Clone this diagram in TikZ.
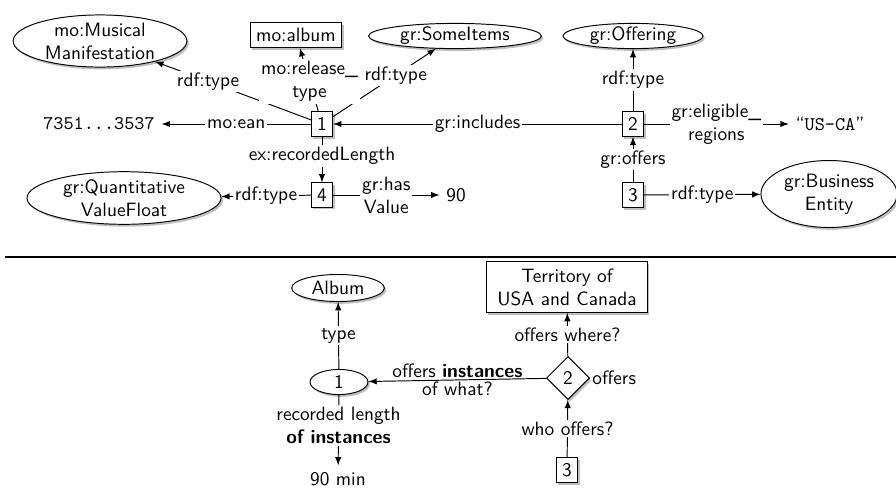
\documentclass[tikz,border=0pt]{standalone}
\usepackage{amsmath}
\usepackage{tikz}
\usetikzlibrary{shapes.geometric,shadows}

\begin{document}
\begin{tikzpicture}[x=0.01821cm,y=-0.01821cm,font=\sffamily,line width=0.5pt,>=latex,
  shad/.style={drop shadow={shadow xshift=1pt,shadow yshift=-1.2pt}},
  box/.style={draw,fill=white,shad,inner sep=3pt,align=center},
  ell/.style 2 args={draw,ellipse,fill=white,shad,inner sep=0pt,align=center,minimum width=#1,minimum height=#2},
  dia/.style={draw,diamond,fill=white,shad,inner sep=1pt,minimum size=22.3pt},
  lab/.style={fill=white,inner sep=1pt,align=center}]
\useasboundingbox (0,0) rectangle (896,489);
% top graph
\node[ell={90pt}{27pt}] (mm) at (100,41) {mo:Musical\\Manifestation};
\node[box] (album) at (296,35) {mo:album};
\node[ell={89.6pt}{12.4pt}] (items) at (455,36) {gr:SomeItems};
\node[ell={72.5pt}{12.4pt}] (offering) at (633,36) {gr:Offering};
\node[box] (t1) at (322,124) {1};
\node[box] (t2) at (633,124) {2};
\node[box] (t3) at (633,195) {3};
\node[box] (t4) at (322,195) {4};
\node (ean) at (99,124) {\texttt{7351...3537}};
\node[ell={100.5pt}{27pt}] (qvf) at (124,198) {gr:Quantitative\\ValueFloat};
\node (ninety) at (456,195) {90};
\node (usca) at (830,124) {“\texttt{US-CA}”};
\node[ell={70.5pt}{34.7pt}] (be) at (829,194) {gr:Business\\Entity};
\draw[->] (t1) -- node[lab,pos=0.66]{rdf:type} (mm);
\draw[->] (t1) -- node[lab,pos=0.61]{rdf:type} (items);
\draw[->] (t1) -- node[lab]{mo:ean} (ean);
\draw[->] (t1) -- node[lab,pos=0.42]{ex:recordedLength} (t4);
\draw[->] (t1) -- node[lab,pos=0.47]{mo:release\_\\type} (album);
\draw[->] (t2) -- node[lab]{gr:includes} (t1);
\draw[->] (t2) -- node[lab]{rdf:type} (offering);
\draw[->] (t2) -- node[lab]{gr:eligible\_\\regions} (usca);
\draw[->] (t3) -- node[lab]{gr:offers} (t2);
\draw[->] (t3) -- node[lab]{rdf:type} (be);
\draw[->] (t4) -- node[lab]{rdf:type} (qvf);
\draw[->] (t4) -- node[lab]{gr:has\\Value} (ninety);
% separator
\draw[line width=0.7pt] (5,257) -- (896,257);
% bottom graph
\node[ell={48pt}{14pt}] (alb) at (338,288) {Album};
\node[ell={30pt}{13pt}] (b1) at (339,382) {1};
\node[box,minimum width=83.4pt,minimum height=26.4pt] (terr) at (567,287) {Territory of\\USA and Canada};
\node[dia,label={[inner sep=1pt]east:offers}] (b2) at (568,378) {2};
\node[box] (b3) at (567,470) {3};
\node (min) at (338,479) {90 min};
\draw[->] (b1) -- node[lab]{type} (alb);
\draw[->] (b1) -- node[lab,pos=0.43]{recorded length\\\textbf{of instances}} (min);
\draw[->] (b2) -- node[above,inner sep=1pt]{offers \textbf{instances}} node[below,inner sep=1pt]{of what?} (b1);
\draw[->] (b2) -- node[lab]{offers where?} (terr);
\draw[->] (b3) -- node[lab]{who offers?} (b2);
\end{tikzpicture}
\end{document}
